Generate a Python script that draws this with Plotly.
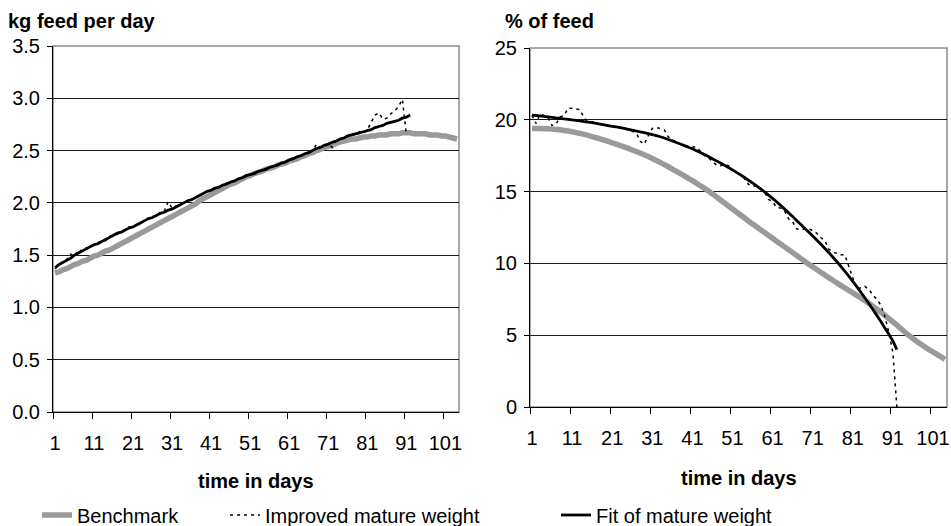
import plotly.graph_objects as go

# ---------------- data ----------------
x_ticks = [1, 11, 21, 31, 41, 51, 61, 71, 81, 91, 101]
kg_ticks = [0.0, 0.5, 1.0, 1.5, 2.0, 2.5, 3.0, 3.5]
pct_ticks = [0, 5, 10, 15, 20, 25]

kg_benchmark = [
    1.33, 1.34, 1.36, 1.37, 1.39, 1.41, 1.42, 1.44, 1.45, 1.47,
    1.49, 1.50, 1.52, 1.54, 1.55, 1.57, 1.59, 1.61, 1.63, 1.65,
    1.67, 1.69, 1.71, 1.73, 1.75, 1.77, 1.79, 1.81, 1.83, 1.85,
    1.87, 1.89, 1.91, 1.93, 1.95, 1.97, 1.99, 2.02, 2.04, 2.06,
    2.08, 2.10, 2.12, 2.14, 2.16, 2.18, 2.19, 2.21, 2.23, 2.25,
    2.26, 2.28, 2.29, 2.30, 2.32, 2.33, 2.34, 2.36, 2.37, 2.38,
    2.40, 2.41, 2.42, 2.44, 2.45, 2.47, 2.48, 2.50, 2.51, 2.53,
    2.54, 2.55, 2.57, 2.58, 2.59, 2.60, 2.61, 2.61, 2.62, 2.63,
    2.63, 2.64, 2.64, 2.65, 2.65, 2.65, 2.66, 2.66, 2.66, 2.67,
    2.67, 2.67, 2.66, 2.66, 2.66, 2.66, 2.65, 2.65, 2.65, 2.64,
    2.64, 2.63, 2.62, 2.61,
]
kg_improved = [
    1.37, 1.40, 1.44, 1.46, 1.51, 1.49, 1.55, 1.54, 1.57, 1.57,
    1.60, 1.62, 1.63, 1.64, 1.68, 1.69, 1.70, 1.73, 1.74, 1.77,
    1.76, 1.80, 1.81, 1.82, 1.86, 1.87, 1.87, 1.91, 1.92, 2.01,
    1.95, 1.97, 1.98, 2.00, 2.02, 2.04, 2.05, 2.06, 2.09, 2.11,
    2.12, 2.15, 2.15, 2.17, 2.19, 2.20, 2.21, 2.23, 2.25, 2.26,
    2.27, 2.29, 2.30, 2.31, 2.33, 2.34, 2.35, 2.37, 2.38, 2.39,
    2.41, 2.43, 2.44, 2.45, 2.47, 2.49, 2.50, 2.56, 2.53, 2.55,
    2.57, 2.53, 2.60, 2.61, 2.63, 2.64, 2.66, 2.65, 2.68, 2.66,
    2.70, 2.77, 2.84, 2.86, 2.80, 2.81, 2.85, 2.88, 2.92, 2.99,
    2.66,
]
kg_fit = [
    1.38, 1.41, 1.43, 1.45, 1.47, 1.50, 1.52, 1.54, 1.56, 1.58,
    1.60, 1.61, 1.63, 1.65, 1.67, 1.69, 1.71, 1.72, 1.74, 1.76,
    1.77, 1.79, 1.81, 1.83, 1.85, 1.86, 1.88, 1.90, 1.91, 1.93,
    1.94, 1.96, 1.98, 2.00, 2.02, 2.03, 2.05, 2.07, 2.09, 2.11,
    2.12, 2.14, 2.15, 2.17, 2.18, 2.20, 2.21, 2.23, 2.24, 2.26,
    2.27, 2.28, 2.30, 2.31, 2.32, 2.34, 2.35, 2.36, 2.38, 2.39,
    2.41, 2.42, 2.44, 2.45, 2.47, 2.48, 2.50, 2.52, 2.53, 2.55,
    2.56, 2.58, 2.59, 2.61, 2.62, 2.64, 2.65, 2.66, 2.67, 2.68,
    2.69, 2.70, 2.72, 2.73, 2.74, 2.76, 2.77, 2.78, 2.79, 2.81,
    2.82, 2.84,
]

pct_benchmark = [
    19.40, 19.40, 19.39, 19.38, 19.37, 19.35, 19.33, 19.30, 19.26, 19.22,
    19.17, 19.11, 19.05, 18.98, 18.91, 18.83, 18.75, 18.67, 18.58, 18.49,
    18.40, 18.31, 18.21, 18.11, 18.01, 17.90, 17.79, 17.68, 17.56, 17.44,
    17.31, 17.17, 17.03, 16.88, 16.73, 16.57, 16.41, 16.25, 16.09, 15.93,
    15.76, 15.59, 15.41, 15.23, 15.04, 14.84, 14.63, 14.42, 14.21, 14.00,
    13.79, 13.58, 13.37, 13.16, 12.95, 12.75, 12.55, 12.35, 12.15, 11.95,
    11.75, 11.55, 11.35, 11.15, 10.95, 10.75, 10.55, 10.35, 10.15, 9.95,
    9.76, 9.57, 9.38, 9.20, 9.01, 8.83, 8.65, 8.47, 8.29, 8.12,
    7.95, 7.77, 7.59, 7.41, 7.22, 7.02, 6.81, 6.60, 6.38, 6.16,
    5.93, 5.70, 5.46, 5.22, 4.99, 4.77, 4.56, 4.37, 4.18, 4.00,
    3.83, 3.66, 3.49, 3.32,
]
pct_improved = [
    20.30, 19.75, 20.40, 20.30, 20.15, 19.60, 19.70, 20.20, 20.30, 20.80,
    20.80, 20.75, 20.70, 20.10, 19.90, 19.85, 19.75, 19.70, 19.65, 19.60,
    19.55, 19.50, 19.45, 19.40, 19.34, 19.20, 19.10, 18.50, 18.30, 18.90,
    19.40, 19.45, 19.40, 19.30, 18.80, 18.60, 18.45, 18.30, 18.20, 18.15,
    18.10, 18.10, 17.80, 17.50, 17.35, 17.10, 16.85, 16.80, 16.90, 16.80,
    16.55, 16.30, 16.20, 15.90, 15.50, 15.40, 15.35, 15.25, 14.95, 14.45,
    14.30, 13.90, 13.85, 13.65, 13.10, 12.90, 12.40, 12.35, 12.40, 12.40,
    12.30, 12.10, 11.80, 11.60, 11.00, 10.80, 10.70, 10.60, 10.60, 9.80,
    9.00, 8.20, 8.30, 8.40, 8.20, 7.80, 7.50, 7.10, 6.30, 5.20,
    3.80, 0.00,
]
pct_fit = [
    20.33, 20.30, 20.27, 20.24, 20.21, 20.17, 20.13, 20.10, 20.06, 20.03,
    19.99, 19.96, 19.92, 19.88, 19.84, 19.80, 19.75, 19.70, 19.65, 19.60,
    19.55, 19.50, 19.45, 19.40, 19.34, 19.28, 19.22, 19.16, 19.10, 19.04,
    18.97, 18.90, 18.82, 18.73, 18.63, 18.53, 18.42, 18.31, 18.20, 18.09,
    17.98, 17.85, 17.72, 17.58, 17.44, 17.29, 17.14, 16.99, 16.84, 16.68,
    16.51, 16.34, 16.16, 15.98, 15.79, 15.60, 15.40, 15.19, 14.98, 14.76,
    14.53, 14.29, 14.04, 13.78, 13.52, 13.26, 12.99, 12.72, 12.45, 12.18,
    11.91, 11.63, 11.35, 11.06, 10.76, 10.45, 10.13, 9.80, 9.46, 9.11,
    8.75, 8.38, 8.00, 7.61, 7.21, 6.80, 6.38, 5.95, 5.51, 5.06,
    4.60, 4.00,
]

series_names = ["Benchmark", "Improved mature weight", "Fit of mature weight"]


def days(values):
    return list(range(1, len(values) + 1))


FONT = "Liberation Sans, Arial, sans-serif"
GRAY = "#9a9a9a"
W, H = 951, 526
FS = 20


def px_x(p):
    return p / W


def px_y(p):
    return 1 - p / H


fig = go.Figure()

# ---- left panel ----
fig.add_trace(go.Scatter(x=days(kg_benchmark), y=kg_benchmark, mode="lines",
                         name=series_names[0], line=dict(color=GRAY, width=5.5, simplify=False),
                         xaxis="x", yaxis="y", legend="legend"))
fig.add_trace(go.Scatter(x=days(kg_improved), y=kg_improved, mode="lines",
                         name=series_names[1],
                         line=dict(color="black", width=1.5, dash="3px,4px", simplify=False),
                         xaxis="x", yaxis="y", legend="legend2"))
fig.add_trace(go.Scatter(x=days(kg_fit), y=kg_fit, mode="lines",
                         name=series_names[2], line=dict(color="black", width=2.8, simplify=False),
                         xaxis="x", yaxis="y", legend="legend3"))

# ---- right panel ----
fig.add_trace(go.Scatter(x=days(pct_benchmark), y=pct_benchmark, mode="lines",
                         name=series_names[0], line=dict(color=GRAY, width=5.5, simplify=False),
                         xaxis="x2", yaxis="y2", showlegend=False))
fig.add_trace(go.Scatter(x=days(pct_improved), y=pct_improved, mode="lines",
                         name=series_names[1],
                         line=dict(color="black", width=1.5, dash="3px,4px", simplify=False),
                         xaxis="x2", yaxis="y2", showlegend=False))
fig.add_trace(go.Scatter(x=days(pct_fit), y=pct_fit, mode="lines",
                         name=series_names[2], line=dict(color="black", width=2.8, simplify=False),
                         xaxis="x2", yaxis="y2", showlegend=False))

tickfont = dict(family=FONT, size=FS, color="black")

xaxis_common = dict(
    range=[0.5, 104.5], tickmode="array", tickvals=x_ticks,
    ticktext=[str(t) for t in x_ticks], ticks="", showgrid=False, zeroline=False,
    showline=True, linecolor="black", linewidth=1, tickfont=tickfont,
    ticklabelstandoff=13,
    minor=dict(ticks="outside", tick0=0.5, dtick=10, ticklen=6,
               tickcolor="black", tickwidth=1, showgrid=False),
)
yaxis_common = dict(
    showline=True, linecolor="black", linewidth=1, ticks="outside", ticklen=5,
    tickcolor="black", showgrid=True, gridcolor="#1a1a1a", gridwidth=1,
    zeroline=False, tickfont=tickfont, ticklabelstandoff=3,
)

legend_common = dict(orientation="h", y=px_y(515), xanchor="left", yanchor="middle",
                     font=dict(family=FONT, size=FS), bgcolor="rgba(0,0,0,0)")

fig.update_layout(
    width=W, height=H,
    margin=dict(l=0, r=0, t=0, b=0, autoexpand=False),
    paper_bgcolor="white", plot_bgcolor="white",
    font=dict(family=FONT, color="black"),
    hovermode=False,
    xaxis=dict(domain=[px_x(53), px_x(459)], anchor="y", **xaxis_common),
    yaxis=dict(domain=[px_y(412), px_y(46)], anchor="x", range=[0, 3.5],
               tickvals=kg_ticks, ticktext=[f"{t:.1f}" for t in kg_ticks], **yaxis_common),
    xaxis2=dict(domain=[px_x(530), px_x(947)], anchor="y2", **xaxis_common),
    yaxis2=dict(domain=[px_y(407), px_y(48)], anchor="x2", range=[0, 25],
                tickvals=pct_ticks, ticktext=[str(t) for t in pct_ticks], **yaxis_common),
    legend=dict(x=px_x(37), **legend_common),
    legend2=dict(x=px_x(225), **legend_common),
    legend3=dict(x=px_x(556), **legend_common),
    shapes=[
        dict(type="rect", xref="x domain", yref="y domain", x0=0, x1=1, y0=0, y1=1,
             line=dict(color="#8c8c8c", width=1.5), layer="below"),
        dict(type="rect", xref="x2 domain", yref="y2 domain", x0=0, x1=1, y0=0, y1=1,
             line=dict(color="#8c8c8c", width=1.5), layer="below"),
    ],
    annotations=[
        dict(text="<b>kg feed per day</b>", xref="paper", yref="paper", x=px_x(6), y=px_y(21),
             xanchor="left", yanchor="middle", showarrow=False, font=dict(family=FONT, size=FS)),
        dict(text="<b>% of feed</b>", xref="paper", yref="paper", x=px_x(503), y=px_y(21),
             xanchor="left", yanchor="middle", showarrow=False, font=dict(family=FONT, size=FS)),
        dict(text="<b>time in days</b>", xref="paper", yref="paper", x=px_x(256), y=px_y(481),
             xanchor="center", yanchor="middle", showarrow=False, font=dict(family=FONT, size=FS)),
        dict(text="<b>time in days</b>", xref="paper", yref="paper", x=px_x(739), y=px_y(478),
             xanchor="center", yanchor="middle", showarrow=False, font=dict(family=FONT, size=FS)),
    ],
)

fig.write_html("out.html", config={"displayModeBar": False},
               post_script="document.body.style.margin='0px';")
